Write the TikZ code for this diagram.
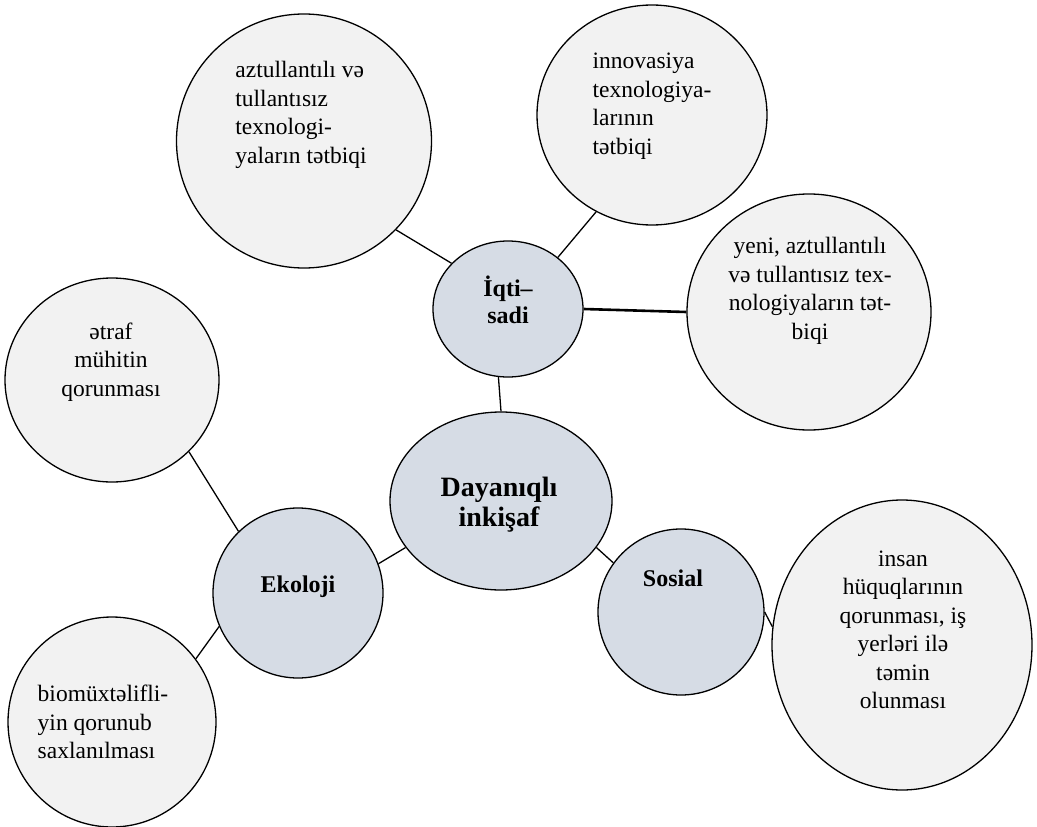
\documentclass[tikz,border=0pt]{standalone}
\usepackage{fontspec}
\setmainfont{Liberation Serif}
\usetikzlibrary{shapes.geometric}
\definecolor{leafgray}{HTML}{F2F2F2}
\definecolor{hubblue}{HTML}{D6DCE5}
\tikzset{
  leaf/.style={ellipse, draw=black, line width=1.3pt, fill=leafgray, inner sep=0pt},
  hub/.style={ellipse, draw=black, line width=1.3pt, fill=hubblue, inner sep=0pt},
  txt/.style={inner sep=0pt, font=\fontsize{23.5}{28.5}\selectfont},
  hubtxt/.style={inner sep=0pt, align=center, font=\fontsize{24}{26}\selectfont\bfseries},
  link/.style={draw=black, line width=1.3pt},
  thicklink/.style={draw=black, line width=2.6pt}
}
\begin{document}
\begin{tikzpicture}[x=1pt,y=-1pt]
\useasboundingbox (0,0) rectangle (1037,827);
% leaf circles
\node[leaf, minimum width=255pt, minimum height=254pt] (az) at (304,141) {};
\node[leaf, minimum width=230pt, minimum height=220pt] (inn) at (652,115) {};
\node[leaf, minimum width=244pt, minimum height=236pt] (yeni) at (809,312) {};
\node[leaf, minimum width=214pt, minimum height=204pt] (et) at (112,380) {};
\node[leaf, minimum width=208pt, minimum height=210pt] (bio) at (112,722) {};
\node[leaf, minimum width=260pt, minimum height=290pt] (ins) at (902,645) {};
% hub circles
\node[hub, minimum width=150pt, minimum height=136pt] (iq) at (508,309) {};
\node[hub, minimum width=222pt, minimum height=178pt] (day) at (501,501) {};
\node[hub, minimum width=170pt, minimum height=170pt] (ek) at (298,593) {};
\node[hub, minimum width=166pt, minimum height=166pt] (so) at (681,612) {};
% connectors
\draw[link] (az.-44) -- (iq.141.6);
\draw[link] (inn.-120.4) -- (iq.46);
\draw[thicklink] (iq.east) -- (yeni.west);
\draw[link] (iq.-98) -- (day.90);
\draw[link] (et.-43.9) -- (ek.134.5);
\draw[link] (ek.-157.7) -- (bio.37.4);
\draw[link] (ek.20.6) -- (day.-154.8);
\draw[link] (day.-26.6) -- (so.144);
\draw[link] (so.0) -- (ins.172);
% texts
\node[txt, align=left] (aztext) at (301,115) {aztullantılı və\\tullantısız\\texnologi-\\yaların tətbiqi};
\node[txt, align=left] (inntext) at (652,106) {innovasiya\\texnologiya-\\larının\\tətbiqi};
\node[txt, align=center] (yenitext) at (810,291) {yeni, aztullantılı\\və tullantısız tex-\\nologiyaların tət-\\biqi};
\node[txt, align=center] (ettext) at (111,362) {ətraf\\mühitin\\qorunması};
\node[txt, align=left] (biotext) at (103,722) {biomüxtəlifli-\\yin qorunub\\saxlanılması};
\node[txt, align=center] (instext) at (903,630) {insan\\hüquqlarının\\qorunması, iş\\yerləri ilə\\təmin\\olunması};
\node[hubtxt, font=\fontsize{24}{27}\selectfont\bfseries] (iqtext) at (508,300) {İqti–\\sadi};
\node[hubtxt, font=\fontsize{28}{30}\selectfont\bfseries] (daytext) at (499,505) {Dayanıqlı\\inkişaf};
\node[hubtxt] (ektext) at (298,587) {Ekoloji};
\node[hubtxt] (sotext) at (673,578) {Sosial};
\end{tikzpicture}
\end{document}
